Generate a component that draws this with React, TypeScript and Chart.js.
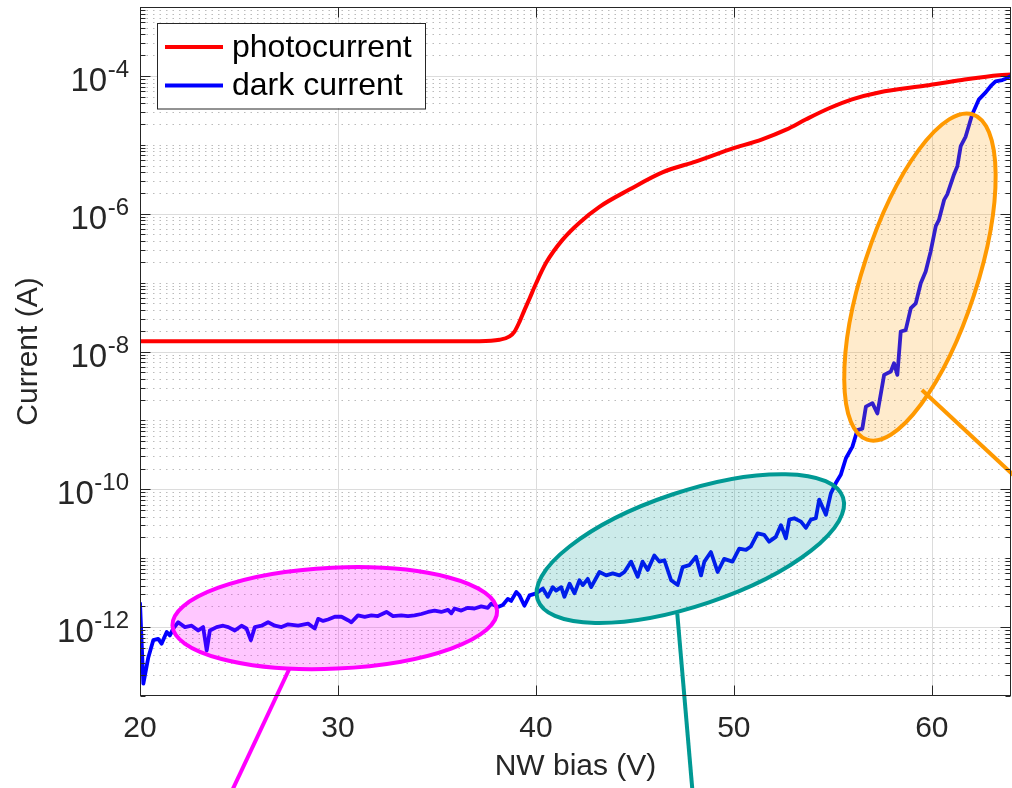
import React, { useEffect, useRef } from 'react';
import { Chart, registerables } from 'chart.js';

Chart.register(...registerables);

const FONT = "'Liberation Sans', Arial, Helvetica, sans-serif";
const TEXT = '#262626';

// ---- data ----
const xTickValues = [20, 30, 40, 50, 60];
const yLabelExponents = [-12, -10, -8, -6, -4];
const yMinExp = -13;
const yMaxExp = -3;

// photocurrent: bias (V) and log10(current / A)
const photoV = [20, 37.15, 38.16, 38.67, 38.92, 39.17, 39.42, 39.68, 40.01, 40.52, 41.34, 42.2, 43.21, 44.72, 46.39, 48.1, 49.77, 51.43, 52.64, 53.65, 54.81, 55.97, 57.33, 59.71, 61.52, 63.39, 64];
const photoLog = [-7.85, -7.85, -7.83, -7.78, -7.71, -7.57, -7.4, -7.23, -7.01, -6.71, -6.38, -6.13, -5.9, -5.65, -5.4, -5.24, -5.07, -4.92, -4.78, -4.63, -4.47, -4.34, -4.24, -4.14, -4.06, -3.99, -3.98];

// dark current: bias (V) and log10(current / A)
const darkV = [
  20.0, 20.17, 20.42, 20.67, 20.92, 21.09, 21.35, 21.51, 21.68, 21.93,
  22.27, 22.61, 22.94, 23.19, 23.37, 23.53, 23.87, 24.2, 24.46, 24.79,
  25.13, 25.38, 25.6, 25.8, 26.14, 26.47, 26.81, 27.15, 27.48, 27.99,
  28.49, 28.83, 29.0, 29.25, 29.5, 29.84, 30.18, 30.51, 30.68, 31.01,
  31.35, 31.69, 32.02, 32.45, 32.78, 33.2, 33.54, 33.87, 34.21, 34.55,
  34.88, 35.22, 35.56, 35.73, 35.89, 36.23, 36.56, 36.9, 37.24, 37.57,
  37.74, 38.08, 38.33, 38.58, 38.75, 39.01, 39.17, 39.42, 39.68, 40.01,
  40.35, 40.6, 40.85, 41.02, 41.28, 41.44, 41.7, 41.95, 42.2, 42.37,
  42.62, 42.79, 43.21, 43.55, 43.88, 44.22, 44.47, 44.81, 45.14, 45.39,
  45.65, 45.98, 46.24, 46.49, 46.83, 47.16, 47.41, 47.75, 48.09, 48.34,
  48.51, 48.84, 49.18, 49.51, 49.93, 50.27, 50.61, 50.86, 51.2, 51.53,
  51.78, 52.12, 52.38, 52.63, 52.8, 53.05, 53.39, 53.64, 53.89, 54.14,
  54.31, 54.65, 54.9, 55.15, 55.4, 55.66, 55.99, 56.24, 56.49, 56.67,
  57.0, 57.25, 57.59, 57.93, 58.09, 58.26, 58.43, 58.68, 58.94, 59.19,
  59.44, 59.69, 59.94, 60.2, 60.36, 60.62, 60.78, 61.12, 61.29, 61.46,
  61.71, 62.04, 62.38, 62.72, 62.97, 63.22, 63.56, 63.73, 64.0,
];
const darkLog = [
  -11.64, -12.82, -12.44, -12.19, -12.17, -12.24, -12.07, -12.12, -12.02, -11.93,
  -12.0, -11.98, -12.05, -12.0, -12.34, -12.05, -12.0, -11.98, -12.0, -12.05,
  -11.98, -12.02, -12.19, -12.0, -11.98, -11.93, -11.98, -12.0, -11.96, -11.98,
  -11.95, -12.02, -11.88, -11.91, -11.89, -11.85, -11.85, -11.9, -11.93, -11.83,
  -11.85, -11.83, -11.84, -11.78, -11.84, -11.83, -11.84, -11.83, -11.81, -11.78,
  -11.76, -11.78, -11.75, -11.8, -11.73, -11.76, -11.72, -11.73, -11.7, -11.72,
  -11.66, -11.71, -11.68, -11.59, -11.62, -11.49, -11.54, -11.69, -11.54, -11.51,
  -11.44, -11.56, -11.42, -11.47, -11.42, -11.56, -11.37, -11.51, -11.32, -11.39,
  -11.3, -11.42, -11.2, -11.25, -11.22, -11.25, -11.2, -11.05, -11.27, -11.05,
  -11.17, -10.96, -11.05, -11.03, -11.32, -11.39, -11.13, -11.1, -10.98, -11.25,
  -11.05, -10.91, -11.2, -11.01, -11.05, -10.86, -10.88, -10.83, -10.64, -10.66,
  -10.76, -10.69, -10.52, -10.71, -10.44, -10.42, -10.47, -10.56, -10.44, -10.42,
  -10.15, -10.37, -10.06, -9.91, -9.79, -9.55, -9.38, -9.14, -9.12, -8.8,
  -8.75, -8.9, -8.34, -8.29, -8.17, -8.34, -7.71, -7.69, -7.37, -7.3,
  -7.01, -6.84, -6.55, -6.18, -6.09, -5.8, -5.72, -5.43, -5.31, -5.02,
  -4.88, -4.56, -4.34, -4.24, -4.15, -4.08, -4.06, -4.04, -4.0,
];

const seriesNames = ['photocurrent', 'dark current'];
const seriesColors = ['#ff0000', '#0000ff'];

// ---- annotation ellipses (centre in data units, radii in px) ----
const ellipses = [
  { stroke: '#ff00ff', fill: 'rgba(255,0,255,0.22)', cx: 29.84, cy: -11.87, rx: 162.5, ry: 50.5, rot: -2.6, from: [27.57, -12.59], to: [24.69, -14.35] },
  { stroke: '#009994', fill: 'rgba(0,153,150,0.2)', cx: 47.8, cy: -10.86, rx: 161, ry: 57, rot: -18.5, from: [47.14, -11.8], to: [47.9, -14.35] },
  { stroke: '#ff9900', fill: 'rgba(255,153,0,0.2)', cx: 59.4, cy: -6.92, rx: 171, ry: 57, rot: -72, from: [59.5, -8.56], to: [64.9, -10.0] },
];

const matlabPlugin = {
  id: 'matlabLook',
  beforeDatasetsDraw(chart: any) {
    const { ctx, chartArea: a, scales } = chart;
    const x = scales.x, y = scales.y;
    ctx.save();
    ctx.beginPath();
    ctx.rect(a.left, a.top, a.right - a.left, a.bottom - a.top);
    ctx.clip();
    // minor y grid (dotted)
    ctx.lineWidth = 1;
    ctx.strokeStyle = 'rgba(120,120,120,0.5)';
    ctx.setLineDash([1.5, 5]);
    for (let n = yMinExp; n <= yMaxExp; n++) {
      for (let k = 1; k <= 9; k++) {
        const v = k * Math.pow(10, n);
        if (v < Math.pow(10, yMinExp) * 0.999 || v > Math.pow(10, yMaxExp) * 1.001) continue;
        if (k === 1 && yLabelExponents.includes(n)) continue;
        const py = Math.round(y.getPixelForValue(v)) + 0.5;
        ctx.beginPath();
        ctx.moveTo(a.left, py);
        ctx.lineTo(a.right, py);
        ctx.stroke();
      }
    }
    // major grid (solid)
    ctx.setLineDash([]);
    ctx.strokeStyle = '#dcdcdc';
    yLabelExponents.forEach((e) => {
      const py = Math.round(y.getPixelForValue(Math.pow(10, e))) + 0.5;
      ctx.beginPath();
      ctx.moveTo(a.left, py);
      ctx.lineTo(a.right, py);
      ctx.stroke();
    });
    xTickValues.forEach((v) => {
      const px = Math.round(x.getPixelForValue(v)) + 0.5;
      ctx.beginPath();
      ctx.moveTo(px, a.top);
      ctx.lineTo(px, a.bottom);
      ctx.stroke();
    });
    ctx.restore();
  },
  afterDatasetsDraw(chart: any) {
    const { ctx, scales } = chart;
    const x = scales.x, y = scales.y;
    ctx.save();
    ellipses.forEach((e) => {
      const cx = x.getPixelForValue(e.cx);
      const cy = y.getPixelForValue(Math.pow(10, e.cy));
      ctx.beginPath();
      ctx.ellipse(cx, cy, e.rx, e.ry, (e.rot * Math.PI) / 180, 0, Math.PI * 2);
      ctx.fillStyle = e.fill;
      ctx.fill();
      ctx.lineWidth = 4;
      ctx.strokeStyle = e.stroke;
      ctx.stroke();
      ctx.beginPath();
      ctx.moveTo(x.getPixelForValue(e.from[0]), y.getPixelForValue(Math.pow(10, e.from[1])));
      ctx.lineTo(x.getPixelForValue(e.to[0]), y.getPixelForValue(Math.pow(10, e.to[1])));
      ctx.stroke();
    });
    ctx.restore();
  },
  afterDraw(chart: any) {
    const { ctx, chartArea: a, scales } = chart;
    const x = scales.x, y = scales.y;
    ctx.save();
    // axes box
    ctx.strokeStyle = TEXT;
    ctx.lineWidth = 1;
    const L = Math.round(a.left) + 0.5, R = Math.round(a.right) - 0.5;
    const T = Math.round(a.top) + 0.5, B = Math.round(a.bottom) - 0.5;
    ctx.strokeRect(L, T, R - L, B - T);
    // x ticks (inward, bottom + top)
    xTickValues.forEach((v) => {
      const px = Math.round(x.getPixelForValue(v)) + 0.5;
      ctx.beginPath();
      ctx.moveTo(px, B); ctx.lineTo(px, B - 10);
      ctx.moveTo(px, T); ctx.lineTo(px, T + 10);
      ctx.stroke();
    });
    // y ticks (inward, left + right)
    for (let n = yMinExp; n <= yMaxExp; n++) {
      for (let k = 1; k <= 9; k++) {
        const v = k * Math.pow(10, n);
        if (v < Math.pow(10, yMinExp) * 0.999 || v > Math.pow(10, yMaxExp) * 1.001) continue;
        const major = k === 1 && yLabelExponents.includes(n);
        const len = major ? 10 : 5;
        const py = Math.round(y.getPixelForValue(v)) + 0.5;
        ctx.beginPath();
        ctx.moveTo(L, py); ctx.lineTo(L + len, py);
        ctx.moveTo(R, py); ctx.lineTo(R - len, py);
        ctx.stroke();
      }
    }
    // y tick labels 10^e
    ctx.fillStyle = TEXT;
    yLabelExponents.forEach((e) => {
      const py = y.getPixelForValue(Math.pow(10, e));
      const es = String(e);
      ctx.font = `24px ${FONT}`;
      const w = ctx.measureText(es).width;
      const ex = a.left - 11 - w;
      ctx.textAlign = 'left';
      ctx.textBaseline = 'alphabetic';
      ctx.fillText(es, ex, py + 1);
      ctx.font = `33px ${FONT}`;
      ctx.textAlign = 'right';
      ctx.fillText('10', ex - 0.5, py + 15);
    });
    // legend
    const lx = a.left + 17, ly = a.top + 15.5, lw = 268, lh = 85.5;
    ctx.fillStyle = '#ffffff';
    ctx.fillRect(lx, ly, lw, lh);
    ctx.strokeStyle = TEXT;
    ctx.lineWidth = 1;
    ctx.strokeRect(Math.round(lx) + 0.5, Math.round(ly) + 0.5, lw, lh);
    seriesNames.forEach((name, i) => {
      const yy = ly + 24.5 + i * 38.5;
      ctx.strokeStyle = seriesColors[i];
      ctx.lineWidth = 4;
      ctx.beginPath();
      ctx.moveTo(lx + 8, yy);
      ctx.lineTo(lx + 66, yy);
      ctx.stroke();
      ctx.fillStyle = '#000000';
      ctx.font = `32px ${FONT}`;
      ctx.textAlign = 'left';
      ctx.textBaseline = 'middle';
      ctx.fillText(name, lx + 75, yy + 1);
    });
    ctx.restore();
  },
};

export default function App() {
  const canvasRef = useRef<HTMLCanvasElement | null>(null);

  useEffect(() => {
    document.body.style.margin = '0';
    const canvas = canvasRef.current;
    if (!canvas) return;
    const chart = new Chart(canvas, {
      type: 'line',
      data: {
        datasets: [
          {
            label: seriesNames[0],
            data: photoV.map((v, i) => ({ x: v, y: Math.pow(10, photoLog[i]) })),
            borderColor: seriesColors[0],
            backgroundColor: seriesColors[0],
            borderWidth: 4,
            pointRadius: 0,
            cubicInterpolationMode: 'monotone',
            order: 1,
          },
          {
            label: seriesNames[1],
            data: darkV.map((v, i) => ({ x: v, y: Math.pow(10, darkLog[i]) })),
            borderColor: seriesColors[1],
            backgroundColor: seriesColors[1],
            borderWidth: 3.8,
            pointRadius: 0,
            tension: 0,
            borderJoinStyle: 'round',
            order: 0,
          },
        ],
      },
      options: {
        animation: false,
        responsive: true,
        maintainAspectRatio: false,
        layout: { padding: { top: 7, right: 1, bottom: 0, left: 0 } },
        plugins: { legend: { display: false }, tooltip: { enabled: false } },
        scales: {
          x: {
            type: 'linear',
            min: 20,
            max: 64,
            ticks: {
              stepSize: 10,
              includeBounds: false,
              maxRotation: 0,
              padding: 15,
              color: TEXT,
              font: { family: FONT, size: 30 },
            },
            grid: { display: false, drawTicks: false },
            border: { display: false },
            title: {
              display: true,
              text: 'NW bias (V)',
              color: TEXT,
              font: { family: FONT, size: 30 },
              padding: { top: 0, bottom: 3 },
            },
            afterFit: (s: any) => { s.height = 92; },
          },
          y: {
            type: 'logarithmic',
            min: Math.pow(10, yMinExp),
            max: Math.pow(10, yMaxExp),
            ticks: { display: false },
            grid: { display: false, drawTicks: false },
            border: { display: false },
            title: {
              display: true,
              text: 'Current (A)',
              color: TEXT,
              font: { family: FONT, size: 30 },
              padding: { top: 10.5, bottom: 0 },
            },
            afterFit: (s: any) => { s.width = 140; },
          },
        },
      },
      plugins: [matlabPlugin],
    } as any);
    return () => chart.destroy();
  }, []);

  return (
    <div style={{ width: 1012, height: 788, position: 'relative' }}>
      <canvas ref={canvasRef} />
    </div>
  );
}
